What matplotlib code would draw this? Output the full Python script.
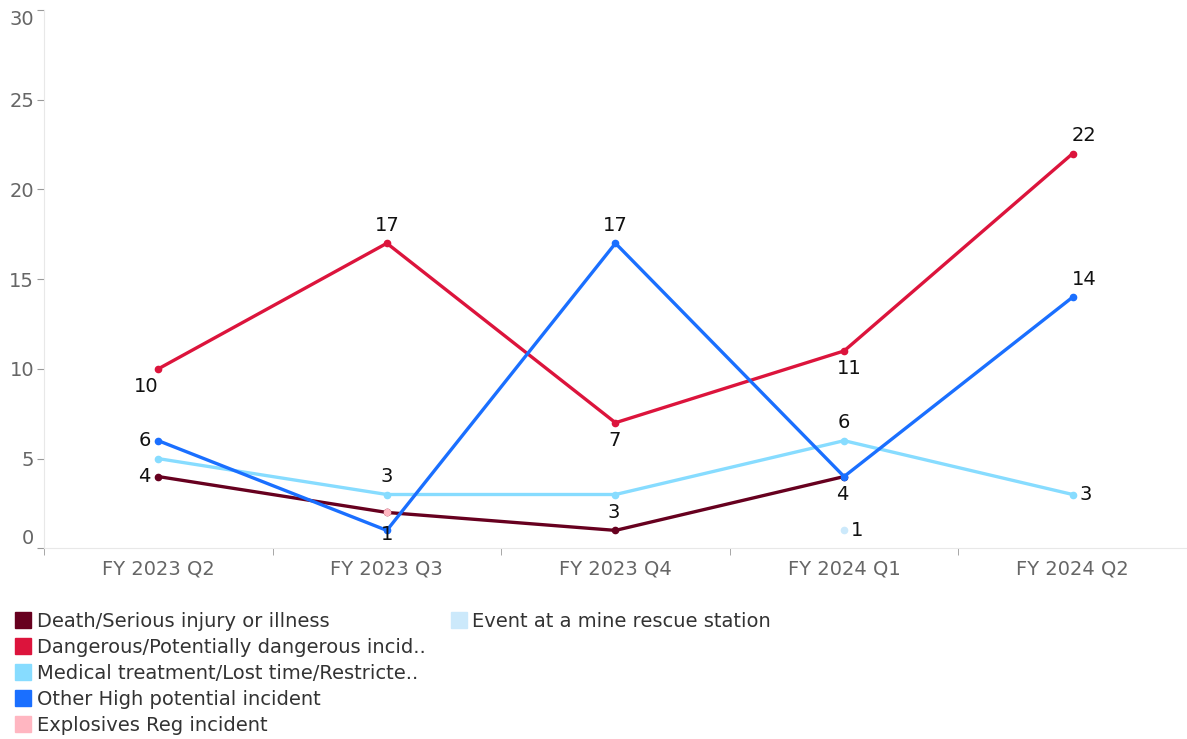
import numpy as np
import matplotlib.pyplot as plt
from matplotlib.lines import Line2D

# data
quarters = ['FY 2023 Q2', 'FY 2023 Q3', 'FY 2023 Q4', 'FY 2024 Q1', 'FY 2024 Q2']
nan = np.nan
death = [4, 2, 1, 4, nan]
dangerous = [10, 17, 7, 11, 22]
medical = [5, 3, 3, 6, 3]
other_high = [6, 1, 17, 4, 14]
explosives = [nan, 2, nan, nan, nan]
rescue_event = [nan, nan, nan, 1, nan]

names = ['Death/Serious injury or illness',
         'Dangerous/Potentially dangerous incid..',
         'Medical treatment/Lost time/Restricte..',
         'Other High potential incident',
         'Explosives Reg incident',
         'Event at a mine rescue station']
colors = ['#67001f', '#dc143c', '#87dcff', '#1a6fff', '#ffb6c1', '#cce9fb']
series = [death, dangerous, medical, other_high, explosives, rescue_event]

# where each value label sits (None = hidden)
label_pos = [
    ['left', None, None, None, None],
    ['below', 'above', 'below', 'below', 'above'],
    [None, 'above', 'below', 'above', 'right'],
    ['left', 'center', 'above', 'below', 'above'],
    [None, None, None, None, None],
    [None, None, None, 'right', None],
]
offsets = {'above': ((0, 13), 'center', 'center'),
           'below': ((-1, -13), 'center', 'center'),
           'left': ((-10, 0), 'center', 'center'),
           'right': ((9, 0), 'center', 'center'),
           'center': ((0, -3), 'center', 'center')}
nudge = {(1, 0): (-8, 0), (1, 3): (5, 0), (1, 4): (8, 0), (3, 4): (8, 0)}

fig = plt.figure(figsize=(11.87, 7.39), dpi=100)
ax = fig.add_axes([0.037, 0.258, 0.963, 0.7285])
x = np.arange(len(quarters))

for i, (vals, c) in enumerate(zip(series, colors)):
    v = np.array(vals, dtype=float)
    ax.plot(x, v, color=c, lw=2.4, marker='o', ms=4.5, solid_capstyle='round')
    for j, val in enumerate(v):
        pos = label_pos[i][j]
        if pos is None or np.isnan(val):
            continue
        (dx, dy), ha, va = offsets[pos]
        ndx, ndy = nudge.get((i, j), (0, 0))
        ax.annotate(f'{int(val)}', (x[j], val), xytext=(dx + ndx, dy + ndy),
                    textcoords='offset points', ha=ha, va=va,
                    fontsize=14, color='#111111')

ax.set_xlim(-0.5, 4.5)
ax.set_ylim(0, 30)
ax.set_xticks(x)
ax.set_xticklabels(quarters)
ax.set_xticks(np.arange(-0.5, 4.5, 1), minor=True)
ax.set_yticks(range(0, 31, 5))
ax.tick_params(axis='x', which='major', length=0, pad=8, labelsize=14, labelcolor='#666666')
ax.tick_params(axis='x', which='minor', length=5, color='#999999')
ax.tick_params(axis='y', length=5, color='#999999', labelsize=14, labelcolor='#666666', pad=2)
ylabels = ax.get_yticklabels()
ylabels[0].set_va('bottom')
ylabels[-1].set_va('top')

for s in ['top', 'right']:
    ax.spines[s].set_visible(False)
ax.spines['left'].set_color('#e8e8e8')
ax.spines['bottom'].set_color('#e8e8e8')

# legend
handles = [Line2D([], [], marker='s', ls='', color=c, ms=12) for c in colors]
leg1 = fig.legend(handles[:5], names[:5], loc='upper left', bbox_to_anchor=(0.004, 0.182),
                  frameon=False, fontsize=14, labelcolor='#333333', handletextpad=0.15,
                  labelspacing=0.36, handlelength=1.1, borderaxespad=0)
leg2 = fig.legend(handles[5:], names[5:], loc='upper left', bbox_to_anchor=(0.371, 0.182),
                  frameon=False, fontsize=14, labelcolor='#333333', handletextpad=0.15,
                  handlelength=1.1, borderaxespad=0)

fig.savefig('out.png', dpi=100)
